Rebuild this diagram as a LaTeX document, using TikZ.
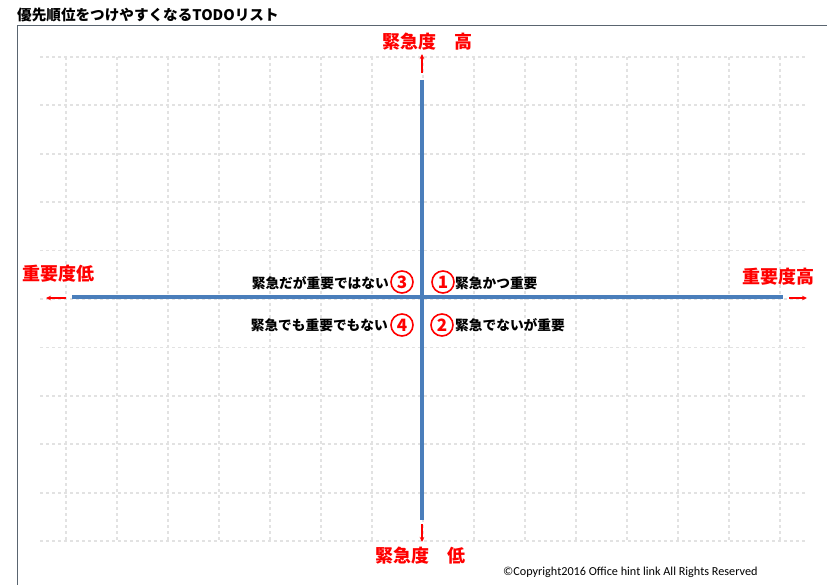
\documentclass[tikz,border=0pt]{standalone}
\usepackage{fontspec}
\newfontfamily\jp{Noto Sans CJK JP}
\newfontfamily\calfont{Carlito}
\usetikzlibrary{arrows.meta}
\definecolor{axisblue}{HTML}{4A7EBB}
\definecolor{gridgray}{HTML}{E2E2E2}
\definecolor{framegray}{HTML}{5A6570}
\tikzset{
  axisline/.style={axisblue, line width=3.5pt},
  redarrow/.style={red, line width=1.3pt, -{Stealth[length=5pt,width=4.5pt]}},
  axislabel/.style={text=red, font=\jp\bfseries\fontsize{18}{20}\selectfont, inner sep=0pt},
  qtext/.style={font=\jp\bfseries\fontsize{13.7}{16}\selectfont, inner sep=0pt},
  numbox/.style={circle, draw=red, line width=1.6pt, text=red, minimum size=22pt, inner sep=0pt, font=\jp\bfseries\fontsize{17}{17}\selectfont},
  gridline/.style={gridgray, line width=1.8pt, dash pattern=on 3pt off 3pt},
  framestyle/.style={framegray, line width=1pt}
}
\begin{document}
\begin{tikzpicture}[x=1pt,y=-1pt]
\useasboundingbox (0,0) rectangle (827,585);
\fill[white] (0,0) rectangle (827,585);
% frame
\draw[framestyle] (17,585) -- (17,26) -- (827,26);
% grid
\foreach \i in {0,...,14} {
  \draw[gridline] (66+51*\i,57) -- (66+51*\i,541);
}
\foreach \j in {0,...,10} {
  \draw[gridline] (40,57+48.4*\j) -- (805,57+48.4*\j);
}
% title
\node[anchor=west, inner sep=0pt, font=\jp\bfseries\fontsize{14.6}{17}\selectfont] (title) at (17,15) {優先順位をつけやすくなるTODOリスト};
% axes
\coordinate (vtop) at (422,80);
\coordinate (vbot) at (422,520);
\coordinate (hleft) at (72,297);
\coordinate (hright) at (783,297);
\draw[axisline] (vtop) -- (vbot);
\draw[axisline] (hleft) -- (hright);
% red arrows
\coordinate (ua) at (422,73);
\coordinate (ub) at (422,54);
\coordinate (da) at (422,524);
\coordinate (db) at (422,542);
\coordinate (la) at (66,298);
\coordinate (lb) at (46,298);
\coordinate (ra) at (789,298);
\coordinate (rb) at (807,298);
\draw[redarrow] (ua) -- (ub);
\draw[redarrow] (da) -- (db);
\draw[redarrow] (la) -- (lb);
\draw[redarrow] (ra) -- (rb);
% axis labels
\node[axislabel] (uhigh) at (427,42) {緊急度　高};
\node[axislabel] (ulow) at (420,556) {緊急度　低};
\node[axislabel, anchor=west] (ilow) at (22,274) {重要度低};
\node[axislabel, anchor=east] (ihigh) at (815,277) {重要度高};
% quadrants
\node[numbox] (n3) at (402,282) {3};
\node[numbox] (n1) at (443,282) {1};
\node[numbox] (n4) at (402,325) {4};
\node[numbox] (n2) at (442,325) {2};
\node[qtext, anchor=east] (q3) at (389,283) {緊急だが重要ではない};
\node[qtext, anchor=west] (q1) at (455,283) {緊急かつ重要};
\node[qtext, anchor=east] (q4) at (388,325) {緊急でも重要でもない};
\node[qtext, anchor=west] (q2) at (455,325) {緊急でないが重要};
% copyright
\node[anchor=west, inner sep=0pt, font=\calfont\fontsize{12.2}{14}\selectfont] (copy) at (503,572) {©Copyright2016 Office hint link All Rights Reserved};
\end{tikzpicture}
\end{document}
